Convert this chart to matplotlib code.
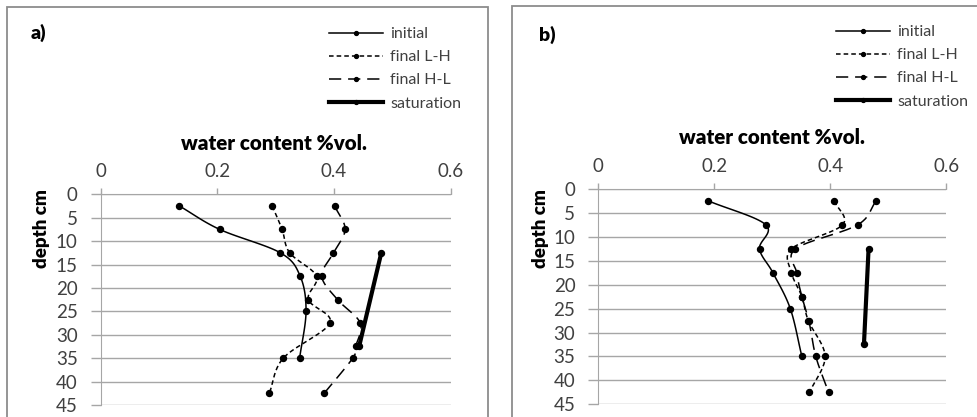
import numpy as np
import matplotlib
matplotlib.use("Agg")
import matplotlib.pyplot as plt
from matplotlib.lines import Line2D
from matplotlib.patches import Rectangle

plt.rcParams['font.family'] = ['Lato', 'DejaVu Sans']

# ---------------- data ----------------
xticks = [0, 0.2, 0.4, 0.6]
xtick_labels = ["0", "0.2", "0.4", "0.6"]
yticks = [0, 5, 10, 15, 20, 25, 30, 35, 40, 45]
series_labels = ["initial", "final L-H", "final H-L", "saturation"]
panel_labels = ["a)", "b)"]
xlabel = "water content %vol."
ylabel = "depth cm"

# panel a
a_init_depth = [2.5, 7.5, 12.5, 17.5, 25, 35]
a_init_val = [0.135, 0.204, 0.308, 0.342, 0.352, 0.341]
a_lh_depth = [2.5, 7.5, 12.5, 17.5, 22.5, 27.5, 35, 42.5]
a_lh_val = [0.294, 0.311, 0.324, 0.370, 0.356, 0.393, 0.313, 0.289]
a_hl_depth = [2.5, 7.5, 12.5, 17.5, 22.5, 27.5, 32.5, 35, 42.5]
a_hl_val = [0.401, 0.419, 0.399, 0.379, 0.406, 0.445, 0.437, 0.432, 0.383]
a_sat_depth = [12.5, 32.5]
a_sat_val = [0.481, 0.443]

# panel b
b_init_depth = [2.5, 7.5, 12.5, 17.5, 25, 35]
b_init_val = [0.190, 0.289, 0.278, 0.301, 0.331, 0.351]
b_lh_depth = [2.5, 7.5, 12.5, 17.5, 22.5, 27.5, 35, 42.5]
b_lh_val = [0.407, 0.421, 0.333, 0.333, 0.351, 0.362, 0.391, 0.364]
b_hl_depth = [2.5, 7.5, 12.5, 17.5, 22.5, 27.5, 35, 42.5]
b_hl_val = [0.479, 0.447, 0.340, 0.342, 0.351, 0.363, 0.375, 0.397]
b_sat_depth = [12.5, 32.5]
b_sat_val = [0.466, 0.458]

# ---------------- layout ----------------
W, H = 978, 417
fig = plt.figure(figsize=(W / 100, H / 100), dpi=100)

GRID = '#a6a6a6'
FRAME = '#8c8c8c'
TXT = '#404040'

styles = [
    dict(color='black', lw=1.1, ls='-', smooth=True),
    dict(color='black', lw=1.1, ls=(0, (3.0, 2.0)), smooth=True),
    dict(color='black', lw=1.1, ls=(0, (8.0, 4.5)), smooth=True),
    dict(color='black', lw=3.0, ls='-', smooth=False),
]


def catmull(xs, ys, sx, sy, n=20):
    P = np.column_stack([np.asarray(xs) * sx, np.asarray(ys) * sy])
    if len(P) < 3:
        return np.asarray(xs, float), np.asarray(ys, float)
    ext = np.vstack([2 * P[0] - P[1], P, 2 * P[-1] - P[-2]])
    out = []
    for i in range(1, len(ext) - 2):
        p0, p1, p2, p3 = ext[i - 1], ext[i], ext[i + 1], ext[i + 2]
        c1 = p1 + (p2 - p0) / 6.0
        c2 = p2 - (p3 - p1) / 6.0
        t = np.linspace(0, 1, n, endpoint=(i == len(ext) - 3))[:, None]
        seg = ((1 - t) ** 3) * p1 + 3 * ((1 - t) ** 2) * t * c1 + 3 * (1 - t) * t ** 2 * c2 + t ** 3 * p2
        out.append(seg)
    out = np.vstack(out)
    return out[:, 0] / sx, out[:, 1] / sy


def make_panel(rect_px, series, frame_px, label_pos, title_pos, ylabel_pos, legend_pos, idx):
    l, t, r, b = rect_px
    ax = fig.add_axes([l / W, 1 - b / H, (r - l) / W, (b - t) / H])
    sx = (r - l) / 0.6
    sy = (b - t) / 45.0
    for (d, v), st in zip(series, styles):
        if st['smooth']:
            xs, ys = catmull(v, d, sx, sy)
        else:
            xs, ys = np.asarray(v), np.asarray(d)
        ax.plot(xs, ys, color=st['color'], lw=st['lw'], ls=st['ls'], solid_capstyle='round',
                dash_capstyle='butt', zorder=3 if st['smooth'] else 2)
        ax.plot(v, d, ls='none', marker='o', ms=4.3, color='black', zorder=4)
    ax.set_xlim(0, 0.6)
    ax.set_ylim(45, 0)
    ax.set_yticks(yticks)
    ax.set_xticks(xticks)
    ax.set_xticklabels(xtick_labels)
    ax.xaxis.tick_top()
    ax.tick_params(axis='x', direction='out', length=4, width=1, color=GRID,
                   labelsize=13.5, pad=6, labelcolor=TXT)
    ax.tick_params(axis='y', direction='out', length=7, width=1, color=GRID,
                   labelsize=13.5, pad=9.5, labelcolor=TXT)
    ax.yaxis.grid(True, color=GRID, lw=1)
    ax.set_axisbelow(True)
    for s in ['right', 'bottom']:
        ax.spines[s].set_visible(False)
    ax.spines['left'].set_color(GRID)
    ax.spines['top'].set_color(GRID)
    ax.patch.set_alpha(0)

    fl, ft, fr, fb = frame_px
    fig.patches.append(Rectangle((fl / W, 1 - fb / H), (fr - fl) / W, (fb - ft) / H,
                                 transform=fig.transFigure, fill=False,
                                 edgecolor=FRAME, lw=1.3))
    fig.text(label_pos[0] / W, 1 - label_pos[1] / H, panel_labels[idx],
             fontsize=14, fontweight='heavy', ha='left', va='center')
    fig.text(title_pos[0] / W, 1 - title_pos[1] / H, xlabel, fontsize=14.8,
             fontweight='heavy', ha='center', va='center')
    fig.text(ylabel_pos[0] / W, 1 - ylabel_pos[1] / H, ylabel, fontsize=13.5,
             fontweight='heavy', ha='center', va='center', rotation=90)

    handles = []
    for st in styles:
        handles.append(Line2D([], [], color='black', lw=st['lw'], ls=st['ls'],
                              marker='o', ms=2.8))
    fig.legend(handles, series_labels, loc='upper left',
               bbox_to_anchor=(legend_pos[0] / W, 1 - legend_pos[1] / H),
               frameon=False, fontsize=11.5, handlelength=3.4, handletextpad=0.45,
               labelspacing=0.56, borderpad=0, borderaxespad=0, labelcolor=TXT)
    return ax


make_panel((100.7, 194.3, 450.7, 405.0),
           [(a_init_depth, a_init_val), (a_lh_depth, a_lh_val),
            (a_hl_depth, a_hl_val), (a_sat_depth, a_sat_val)],
           (7.3, 7.3, 488.3, 430), (31, 33), (274, 143), (42, 229), (329, 27), 0)
make_panel((598.3, 189.0, 946.3, 404.3),
           [(b_init_depth, b_init_val), (b_lh_depth, b_lh_val),
            (b_hl_depth, b_hl_val), (b_sat_depth, b_sat_val)],
           (511.7, 6.0, 990, 430), (539, 35), (772, 138), (541, 229), (836, 25), 1)

fig.savefig('out.png', dpi=100)
